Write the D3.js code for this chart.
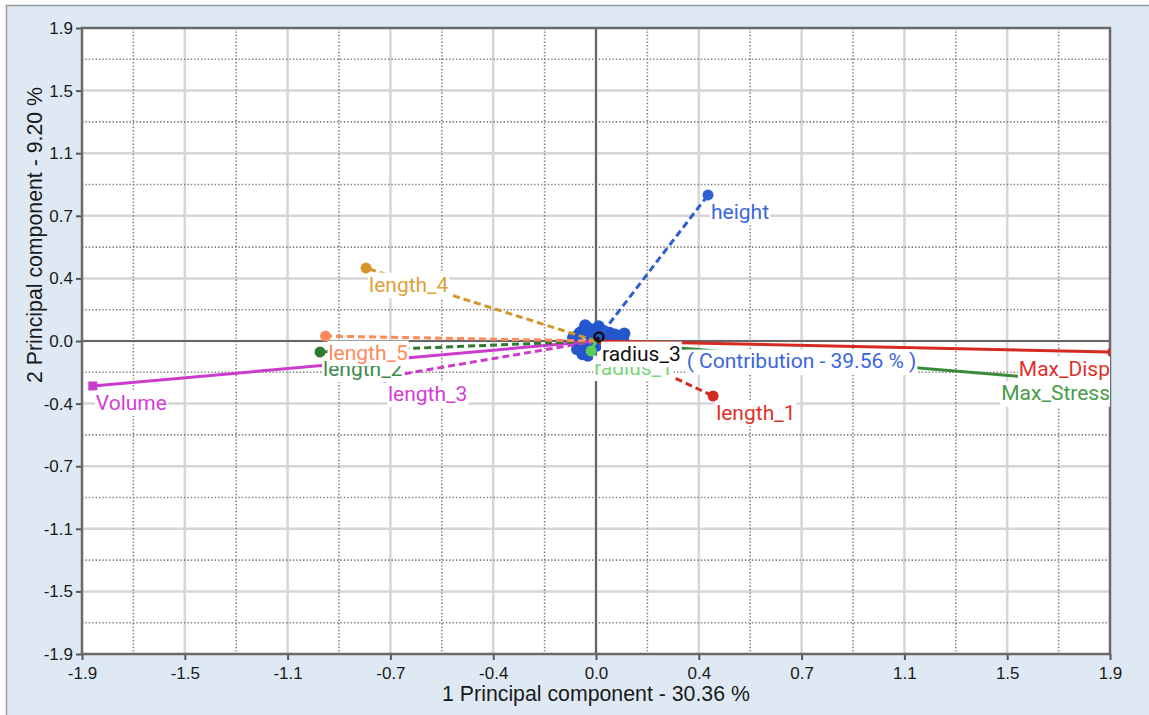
<!DOCTYPE html>
<html>
<head>
<meta charset="utf-8">
<script src="https://cdn.jsdelivr.net/npm/d3@7"></script>
<style>
  html, body { margin: 0; padding: 0; background: #ffffff; }
  svg { display: block; }
</style>
</head>
<body>
<svg id="chart" width="1149" height="715"></svg>
<script>
// Axis ticks (PCA biplot, both axes share the same range)
const tickValues = [-1.9, -1.52, -1.14, -0.76, -0.38, 0, 0.38, 0.76, 1.14, 1.52, 1.9];
const tickLabels = ["-1.9", "-1.5", "-1.1", "-0.7", "-0.4", "0.0", "0.4", "0.7", "1.1", "1.5", "1.9"];

// Variable loadings on the first two principal components
const variables = ["Volume", "length_3", "length_2", "length_5", "length_4", "height", "length_1", "Max_Stress", "Max_Disp", "radius_1", "radius_3"];
const pc1 = [-1.86, -0.78, -1.02, -1.00, -0.85, 0.414, 0.433, 1.58, 1.91, -0.018, 0.011];
const pc2 = [-0.273, -0.219, -0.067, 0.030, 0.443, 0.886, -0.334, -0.217, -0.067, -0.061, 0.024];

// Observation scores (cluster around the origin)
const obsX = [-0.07, -0.05, -0.03, -0.01, 0.01, 0.03, 0.05, 0.07, 0.09, 0.10, -0.08, -0.06, -0.04, -0.02, -0.05, -0.03, 0.00, 0.02, 0.04, 0.06, -0.02, -0.06, 0.08, -0.07, 0.00, 0.045, -0.085, 0.025, -0.04, 0.105];
const obsY = [0.03, 0.06, 0.08, 0.07, 0.09, 0.06, 0.05, 0.04, 0.03, 0.01, 0.00, -0.02, -0.04, -0.06, -0.08, -0.09, -0.03, 0.02, 0.00, 0.02, 0.03, 0.05, 0.00, -0.05, 0.04, 0.03, 0.02, -0.02, 0.095, 0.045];

const xTitle = "1 Principal component - 30.36 %";
const yTitle = "2 Principal component - 9.20 %";
const contributionText = "( Contribution - 39.56 % )";
const contributionAt = [0.335, -0.121];

// Appearance of each variable vector
const lineColor = {
  Volume: "#cc3ccc", length_3: "#cc3ccc", length_2: "#2f7a2f", length_5: "#ff8a5c",
  length_4: "#d4962a", height: "#2e5fd0", length_1: "#d42a22", Max_Stress: "#3a8a3a",
  Max_Disp: "#d42a22", radius_1: "#5ccc5c", radius_3: "#111111"
};
const labelColor = {
  Volume: "#d23ed2", length_3: "#d23ed2", length_2: "#3e8a4a", length_5: "#ff8a5c",
  length_4: "#dfa13a", height: "#3a66dc", length_1: "#e0302a", Max_Stress: "#4a9a4a",
  Max_Disp: "#e0302a", radius_1: "#7ad67a", radius_3: "#111111"
};
const solid = new Set(["Volume", "Max_Stress", "Max_Disp"]);

const svg = d3.select("#chart");
const W = 1149, H = 715;
const plotL = 82, plotR = 1110, plotT = 28, plotB = 654;

// Outer panel
svg.append("rect").attr("x", 6.5).attr("y", 5.5).attr("width", W).attr("height", H)
  .attr("fill", "#dfe9f4").attr("stroke", "#9a9a9a").attr("stroke-width", 1.5);

const x = d3.scaleLinear().domain([-1.9, 1.9]).range([plotL, plotR]);
const y = d3.scaleLinear().domain([-1.9, 1.9]).range([plotB, plotT]);

// Plot area
svg.append("rect").attr("x", plotL).attr("y", plotT).attr("width", plotR - plotL).attr("height", plotB - plotT)
  .attr("fill", "#ffffff");

svg.append("clipPath").attr("id", "plotClip").append("rect")
  .attr("x", plotL).attr("y", plotT).attr("width", plotR - plotL).attr("height", plotB - plotT);

const minor = d3.pairs(tickValues).map(([a, b]) => (a + b) / 2);
const grid = svg.append("g");

// Major grid lines
grid.selectAll(".vmaj").data(tickValues.slice(1, -1)).join("line")
  .attr("x1", d => x(d)).attr("x2", d => x(d)).attr("y1", plotT).attr("y2", plotB)
  .attr("stroke", "#d6d6d6").attr("stroke-width", 2.5);
grid.selectAll(".hmaj").data(tickValues.slice(1, -1)).join("line")
  .attr("y1", d => y(d)).attr("y2", d => y(d)).attr("x1", plotL).attr("x2", plotR)
  .attr("stroke", "#d6d6d6").attr("stroke-width", 2.5);

// Minor dotted grid lines
grid.selectAll(".vmin").data(minor).join("line")
  .attr("x1", d => x(d)).attr("x2", d => x(d)).attr("y1", plotT).attr("y2", plotB)
  .attr("stroke", "#808080").attr("stroke-width", 1.6).attr("stroke-dasharray", "1.4,2");
grid.selectAll(".hmin").data(minor).join("line")
  .attr("y1", d => y(d)).attr("y2", d => y(d)).attr("x1", plotL).attr("x2", plotR)
  .attr("stroke", "#808080").attr("stroke-width", 1.6).attr("stroke-dasharray", "1.4,2");

// Zero axes
grid.append("line").attr("x1", x(0)).attr("x2", x(0)).attr("y1", plotT).attr("y2", plotB)
  .attr("stroke", "#666").attr("stroke-width", 2.2);
grid.append("line").attr("y1", y(0)).attr("y2", y(0)).attr("x1", plotL).attr("x2", plotR)
  .attr("stroke", "#666").attr("stroke-width", 2.2);

// Axes
const tickFont = "'Liberation Sans', Arial, sans-serif";
const xAxis = svg.append("g").attr("transform", `translate(0,${plotB})`)
  .call(d3.axisBottom(x).tickValues(tickValues).tickFormat((d, i) => tickLabels[i]).tickSize(6).tickPadding(7));
const yAxis = svg.append("g").attr("transform", `translate(${plotL},0)`)
  .call(d3.axisLeft(y).tickValues(tickValues).tickFormat((d, i) => tickLabels[i]).tickSize(6).tickPadding(3));
[xAxis, yAxis].forEach(g => {
  g.select(".domain").remove();
  g.selectAll(".tick line").attr("stroke", "#555").attr("stroke-width", 2);
  g.selectAll(".tick text").attr("fill", "#1a1a1a").style("font-family", tickFont).style("font-size", "17px");
});

// Plot frame
svg.append("rect").attr("x", plotL).attr("y", plotT).attr("width", plotR - plotL).attr("height", plotB - plotT)
  .attr("fill", "none").attr("stroke", "#6a6a6a").attr("stroke-width", 2.5);

// Axis titles
svg.append("text").attr("x", x(0)).attr("y", 701).attr("text-anchor", "middle")
  .attr("fill", "#1a1a1a").style("font-family", tickFont).style("font-size", "21.3px").text(xTitle);
svg.append("text").attr("transform", `translate(42,${y(0) - 106}) rotate(-90)`).attr("text-anchor", "middle")
  .attr("fill", "#1a1a1a").style("font-family", tickFont).style("font-size", "21.3px").text(yTitle);

// Biplot content
const plot = svg.append("g").attr("clip-path", "url(#plotClip)");

// Observation scores
plot.selectAll(".obs").data(d3.range(obsX.length)).join("circle")
  .attr("cx", i => x(obsX[i])).attr("cy", i => y(obsY[i])).attr("r", 6)
  .attr("fill", "#2456cc");

// Variable vectors
const vec = d3.range(variables.length);
plot.selectAll(".vec").data(vec).join("line")
  .attr("x1", x(0)).attr("y1", y(0))
  .attr("x2", i => x(pc1[i])).attr("y2", i => y(pc2[i]))
  .attr("stroke", i => lineColor[variables[i]]).attr("stroke-width", 3)
  .attr("stroke-dasharray", i => solid.has(variables[i]) ? null : "7,4");

// Vector end markers
vec.forEach(i => {
  const name = variables[i], cx = x(pc1[i]), cy = y(pc2[i]);
  if (name === "Volume") {
    plot.append("rect").attr("x", cx - 4.5).attr("y", cy - 4.5).attr("width", 9).attr("height", 9)
      .attr("fill", lineColor[name]);
  } else if (name === "radius_3") {
    plot.append("circle").attr("cx", cx).attr("cy", cy).attr("r", 4.5)
      .attr("fill", "none").attr("stroke", lineColor[name]).attr("stroke-width", 2.5);
  } else {
    plot.append("circle").attr("cx", cx).attr("cy", cy).attr("r", 5.5).attr("fill", lineColor[name]);
  }
});

// Labels with white backing boxes
const labelFont = "Roboto, 'Noto Sans', sans-serif";
function boxedLabel(parent, tx, ty, text, color) {
  const g = parent.append("g");
  const rect = g.append("rect").attr("fill", "#ffffff");
  const t = g.append("text").attr("x", tx).attr("y", ty).attr("dy", "0.36em")
    .attr("fill", color).style("font-family", labelFont).style("font-size", "21px").text(text);
  let bb = t.node().getBBox();
  if (bb.x + bb.width > plotR) {
    t.attr("x", plotR - bb.width);
    bb = t.node().getBBox();
  }
  rect.attr("x", bb.x - 1).attr("y", bb.y).attr("width", bb.width + 2).attr("height", bb.height + 1.5);
  return g;
}
vec.forEach(i => {
  const name = variables[i];
  boxedLabel(plot, x(pc1[i]) + 3, y(pc2[i]) + 16, name, labelColor[name]);
});

// Component contribution annotation
boxedLabel(plot, x(contributionAt[0]), y(contributionAt[1]), contributionText, "#3a66dc");
</script>
</body>
</html>
